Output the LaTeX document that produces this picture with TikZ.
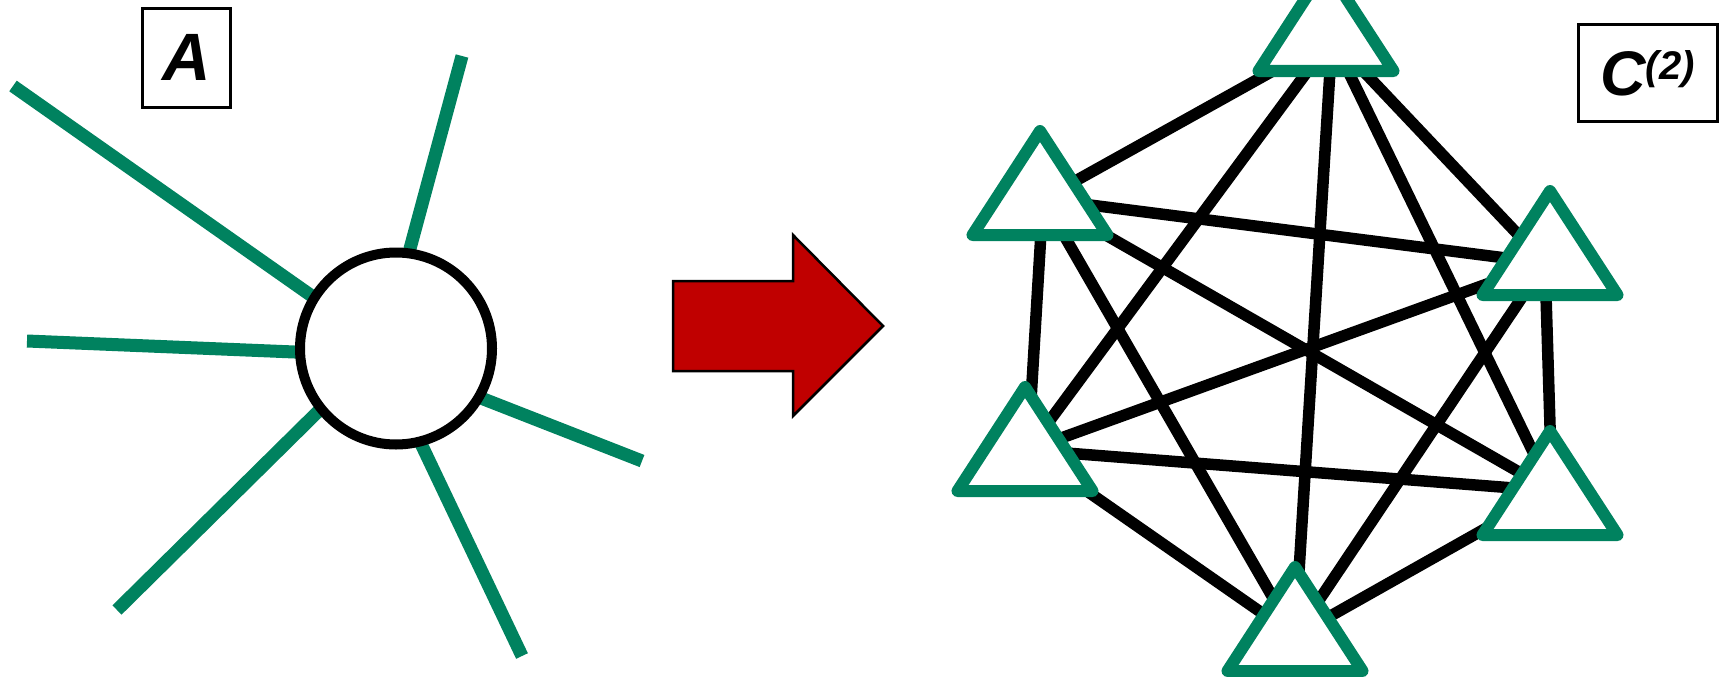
\documentclass[tikz,border=0pt]{standalone}
\usepackage{fontspec}
\setmainfont{Liberation Sans}
\usetikzlibrary{backgrounds}
\definecolor{grn}{RGB}{0,130,95}
\definecolor{arrred}{RGB}{192,0,0}
\begin{document}
\begin{tikzpicture}[x=1pt,y=-1pt,
  spoke/.style={draw=grn, line width=13pt, shorten >=-6pt},
  edge/.style={draw=black, line width=11.5pt},
  tri/.pic={\draw[draw=grn, fill=white, line width=12pt, line join=round] (0,-69) -- (67.5,35) -- (-67.5,35) -- cycle;},
  lbl/.style={draw=black, line width=3pt, inner sep=0pt, font=\bfseries\itshape}]
\useasboundingbox (0,0) rectangle (1721,677);
\clip (0,0) rectangle (1721,677);
% left: star
\node[circle, draw, line width=10pt, fill=white, minimum size=192pt, inner sep=0pt] (c) at (396,348.5) {};
\coordinate (s1) at (13,86);
\coordinate (s2) at (462,56);
\coordinate (s3) at (27,341);
\coordinate (s4) at (642,461);
\coordinate (s5) at (522,656);
\coordinate (s6) at (117,610);
\begin{pgfonlayer}{background}
\draw[spoke] (s1) -- (c.148.6);
\draw[spoke] (s2) -- (c.82.2);
\draw[spoke] (s3) -- (c.182.2);
\draw[spoke] (s4) -- (c.330.7);
\draw[spoke] (s5) -- (c.285.5);
\draw[spoke] (s6) -- (c.219.1);
\end{pgfonlayer}
% labels
\node[lbl, minimum width=87.5pt, minimum height=98.5pt] (la) at (186.25,57.75) {\fontsize{67}{67}\selectfont A};
\node[lbl, minimum width=139pt, minimum height=96pt] (lc) at (1647.5,73) {\fontsize{63}{63}\selectfont C\raisebox{16pt}{\fontsize{40}{40}\selectfont(2)}};
% arrow
\draw[fill=arrred, line width=2.5pt, line join=miter] (673,281) -- (793,281) -- (793,235) -- (883,326) -- (793,416) -- (793,371) -- (673,371) -- cycle;
% right: complete graph
\coordinate (t1) at (1332,38);
\coordinate (t2) at (1043,199);
\coordinate (t3) at (1545,263);
\coordinate (t4) at (1028,450);
\coordinate (t5) at (1552,491);
\coordinate (t6) at (1295,636);
\begin{pgfonlayer}{background}
\foreach \a/\b in {t1/t2,t1/t3,t1/t4,t1/t5,t1/t6,t2/t3,t2/t4,t2/t5,t2/t6,t3/t4,t3/t5,t3/t6,t4/t5,t4/t6,t5/t6}
  \draw[edge] (\a) -- (\b);
\end{pgfonlayer}
\pic at (1326,36) {tri};
\pic at (1040,200) {tri};
\pic at (1550,260) {tri};
\pic at (1025,456) {tri};
\pic at (1550,500) {tri};
\pic at (1295,636) {tri};
\end{tikzpicture}
\end{document}
